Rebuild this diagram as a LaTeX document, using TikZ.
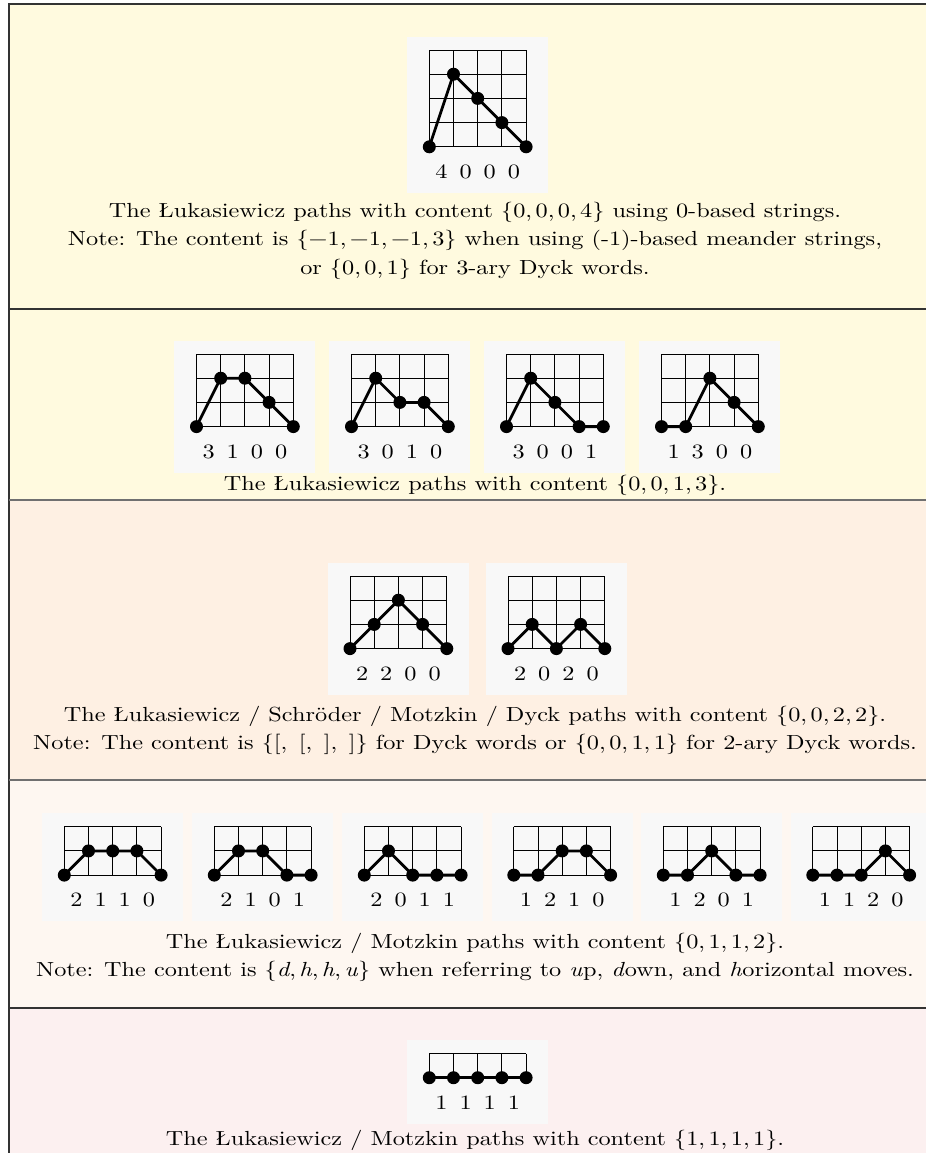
\documentclass[tikz,border=0pt]{standalone}
\usepackage{fontspec}
\setmainfont{Latin Modern Roman}[FakeStretch=1.19]
\definecolor{bandA}{HTML}{FFFADF}
\definecolor{bandC}{HTML}{FEF0E3}
\definecolor{bandD}{HTML}{FEF7F1}
\definecolor{bandE}{HTML}{FCF0F0}
\definecolor{boxbg}{HTML}{F8F8F8}
\definecolor{rulec}{HTML}{333333}
\tikzset{
  pbox/.style={fill=boxbg, draw=none, inner sep=0pt, outer sep=0pt},
  gridline/.style={line width=0.5pt, black},
  pathline/.style={line width=1.4pt, black, line join=round},
  labtxt/.style={inner sep=0pt, anchor=base, font=\fontsize{10.2}{12}\selectfont},
  captxt/.style={inner sep=0pt, anchor=base, font=\fontsize{10.2}{14.25}\selectfont},
  seprule/.style={line width=0.6pt, rulec}
}
\def\cw{24.2}
\newcommand\cs[1]{\{#1\}}
% #1 name, #2 grid left, #3 grid top, #4 rows, #5 heights, #6 labels
\newcommand\lukbox[6]{%
  \pgfmathsetmacro\gbot{#3+#4*\cw}%
  \pgfmathsetmacro\gright{#2+4*\cw}%
  \pgfmathsetmacro\bcx{#2+2*\cw}%
  \pgfmathsetmacro\bcy{((#3-13.5)+(\gbot+46))/2}%
  \pgfmathsetmacro\bh{(\gbot+46-(#3-13.5))*0.5}%
  \node[pbox, minimum width=70.5pt, minimum height=\bh pt] (#1) at (\bcx,\bcy) {};
  \foreach \r in {0,...,#4} {\draw[gridline] (#2,{#3+\r*\cw}) -- (\gright,{#3+\r*\cw});}
  \foreach \c in {0,...,4} {\draw[gridline] ({#2+\c*\cw},#3) -- ({#2+\c*\cw},\gbot);}
  \foreach \h [count=\i from 0] in {#5} {\coordinate (#1-p\i) at ({#2+\i*\cw},{\gbot-\h*\cw});}
  \draw[pathline] (#1-p0) -- (#1-p1) -- (#1-p2) -- (#1-p3) -- (#1-p4);
  \foreach \i in {0,...,4} {\fill (#1-p\i) circle[radius=3.25pt];}
  \foreach \l [count=\i from 0] in {#6} {\node[labtxt] (#1-l\i) at ({#2+(\i+0.5)*\cw},{\gbot+31.5}) {\l};}
}
\begin{document}
\begin{tikzpicture}[x=0.5pt,y=-0.5pt]
\useasboundingbox (0,0) rectangle (926,1153);
% bands
\fill[bandA] (9,4) rectangle (926,500);
\fill[bandC] (9,500) rectangle (926,780);
\fill[bandD] (9,780) rectangle (926,1008);
\fill[bandE] (9,1008) rectangle (926,1153);
% frame and separators
\draw[seprule] (9,1153) -- (9,4) -- (926,4);
\draw[seprule] (9,309) -- (926,309);
\draw[seprule, rulec!70] (9,500) -- (926,500);
\draw[seprule, rulec!70] (9,780) -- (926,780);
\draw[seprule] (9,1008) -- (926,1008);
% section 1
\lukbox{a}{429.3}{50}{4}{0,3,2,1,0}{4,0,0,0}
\node[captxt] (capa1) at (475,217) {The Łukasiewicz paths with content \cs{0,\,0,\,0,\,4} using 0-based strings.};
\node[captxt] (capa2) at (475,245.5) {Note: The content is \cs{−1,\,−1,\,−1,\,3} when using (-1)-based meander strings,};
\node[captxt] (capa3) at (475,274) {or \cs{0,\,0,\,1} for 3-ary Dyck words.};
% section 2
\lukbox{b1}{196.5}{354}{3}{0,2,2,1,0}{3,1,0,0}
\lukbox{b2}{351.5}{354}{3}{0,2,1,1,0}{3,0,1,0}
\lukbox{b3}{506.5}{354}{3}{0,2,1,0,0}{3,0,0,1}
\lukbox{b4}{661.5}{354}{3}{0,0,2,1,0}{1,3,0,0}
\node[captxt] (capb1) at (475,490) {The Łukasiewicz paths with content \cs{0,\,0,\,1,\,3}.};
% section 3
\lukbox{c1}{350}{576}{3}{0,1,2,1,0}{2,2,0,0}
\lukbox{c2}{508}{576}{3}{0,1,0,1,0}{2,0,2,0}
\node[captxt] (capc1) at (475,721) {The Łukasiewicz / Schröder / Motzkin / Dyck paths with content \cs{0,\,0,\,2,\,2}.};
\node[captxt] (capc2) at (475,749.5) {Note: The content is \cs{[,\, [,\, ],\, ]} for Dyck words or \cs{0,\,0,\,1,\,1} for 2-ary Dyck words.};
% section 4
\lukbox{d1}{64.3}{826.7}{2}{0,1,1,1,0}{2,1,1,0}
\lukbox{d2}{214.3}{826.7}{2}{0,1,1,0,0}{2,1,0,1}
\lukbox{d3}{364.3}{826.7}{2}{0,1,0,0,0}{2,0,1,1}
\lukbox{d4}{513.8}{826.7}{2}{0,0,1,1,0}{1,2,1,0}
\lukbox{d5}{663.3}{826.7}{2}{0,0,1,0,0}{1,2,0,1}
\lukbox{d6}{812.8}{826.7}{2}{0,0,0,1,0}{1,1,2,0}
\node[captxt] (capd1) at (475,948) {The Łukasiewicz / Motzkin paths with content \cs{0,\,1,\,1,\,2}.};
\node[captxt] (capd2) at (475,976.5) {Note: The content is \cs{\textit{d},\,\textit{h},\,\textit{h},\,\textit{u}} when referring to \textit{u}p, \textit{d}own, and \textit{h}orizontal moves.};
% section 5
\lukbox{e}{429.3}{1053.5}{1}{0,0,0,0,0}{1,1,1,1}
\node[captxt] (cape1) at (475,1145) {The Łukasiewicz / Motzkin paths with content \cs{1,\,1,\,1,\,1}.};
\end{tikzpicture}
\end{document}
